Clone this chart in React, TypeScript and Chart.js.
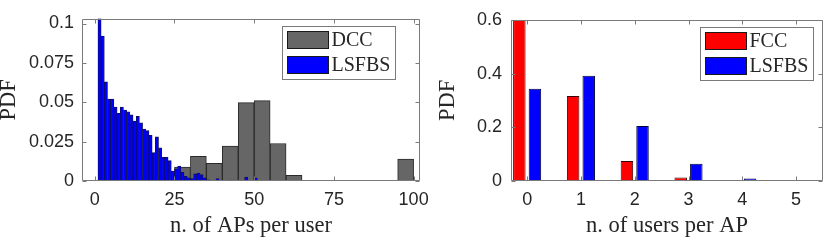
import React, { useEffect, useRef } from "react";
import { Chart, registerables } from "chart.js";
Chart.register(...registerables);

// ---------- Left panel: n. of APs per user ----------
const dccBinStart = 0;
const dccBinWidth = 5;
const dccValues = [
  0, 0, 0, 0, 0, 0.0088, 0.0156, 0.0112, 0.0221, 0.0498, 0.051, 0.0238, 0.0036,
  0.0004, 0, 0, 0, 0, 0, 0.0139,
];

const lsfbsApsBinStart = 1;
const lsfbsApsBinWidth = 1;
const lsfbsApsValues = [
  0.11, 0.092, 0.063, 0.052, 0.052, 0.047, 0.043, 0.047, 0.045, 0.044, 0.042,
  0.038, 0.041, 0.037, 0.033, 0.032, 0.029, 0.018, 0.028, 0.021, 0.015, 0.015,
  0.013, 0.0063, 0.0078, 0.0095, 0.0055, 0.003, 0.002, 0.0015, 0.0045, 0.005,
  0.004, 0.002, 0.0008, 0.0005, 0.0005, 0.0016, 0.0005, 0.0004, 0.0003, 0.0006,
  0.0006, 0.0003, 0.0002, 0.0005, 0.0025, 0.0004, 0.0005, 0.002, 0.0003,
];

const apsXTicks = [0, 25, 50, 75, 100];
const apsYTicks = [0, 0.025, 0.05, 0.075, 0.1];

// ---------- Right panel: n. of users per AP ----------
const usersPerAp = [0, 1, 2, 3, 4, 5];
const fccValues = [0.6, 0.316, 0.0745, 0.013, 0.0025, 0];
const lsfbsUsersValues = [0.343, 0.392, 0.205, 0.064, 0.0097, 0];
const usersYTicks = [0, 0.2, 0.4, 0.6];

const TEXT = "#262626";
const AXIS = "#7a7a7a";
const SANS = "'Liberation Sans', Arial, sans-serif";
const SERIF = "'Liberation Serif', 'Times New Roman', serif";

const fmt = (v: any) => String(+Number(v).toFixed(4));

const boxPlugin = {
  id: "matlabBox",
  afterDatasetsDraw(chart: any) {
    const { ctx, chartArea: a } = chart;
    const xs = chart.scales.x;
    const ys = chart.scales.y;
    const tl = 4;
    ctx.save();
    ctx.strokeStyle = AXIS;
    ctx.lineWidth = 1;
    const L = Math.round(a.left) + 0.5;
    const R = Math.round(a.right) - 0.5;
    const T = Math.round(a.top) + 0.5;
    const B = Math.round(a.bottom) - 0.5;
    ctx.beginPath();
    ctx.rect(L, T, R - L, B - T);
    xs.ticks.forEach((t: any) => {
      const px = Math.round(xs.getPixelForValue(t.value)) + 0.5;
      ctx.moveTo(px, B);
      ctx.lineTo(px, B - tl);
      ctx.moveTo(px, T);
      ctx.lineTo(px, T + tl);
    });
    ys.ticks.forEach((t: any) => {
      const py = Math.round(ys.getPixelForValue(t.value)) + 0.5;
      ctx.moveTo(L, py);
      ctx.lineTo(L + tl, py);
      ctx.moveTo(R, py);
      ctx.lineTo(R - tl, py);
    });
    ctx.stroke();
    ctx.restore();
  },
};

const legendPlugin = {
  id: "matlabLegend",
  afterDraw(chart: any, _args: any, opts: any) {
    const { ctx, chartArea: a } = chart;
    const items = opts.items as { label: string; color: string }[];
    ctx.save();
    ctx.font = `20px ${SERIF}`;
    const textW = Math.max(...items.map((i) => ctx.measureText(i.label).width));
    const patchW = 42;
    const patchH = 18;
    const pad = 4.5;
    const gap = 2.5;
    const rowH = 25;
    const w = pad + patchW + gap + textW + 5;
    const h = pad * 2 + rowH * (items.length - 1) + patchH + 1;
    const x0 = Math.round(a.right - opts.right - w) + 0.5;
    const y0 = Math.round(a.top + opts.top) + 0.5;
    ctx.fillStyle = "#fff";
    ctx.fillRect(x0, y0, w, h);
    ctx.strokeStyle = AXIS;
    ctx.lineWidth = 1;
    ctx.strokeRect(x0, y0, Math.round(w), Math.round(h));
    items.forEach((it, i) => {
      const py = Math.round(y0 + pad + i * rowH);
      const px = Math.round(x0 + pad);
      ctx.fillStyle = it.color;
      ctx.fillRect(px, py, patchW, patchH);
      ctx.strokeStyle = "#1a1a1a";
      ctx.strokeRect(px + 0.5, py + 0.5, patchW - 1, patchH - 1);
      ctx.fillStyle = TEXT;
      ctx.textBaseline = "middle";
      ctx.textAlign = "left";
      ctx.fillText(it.label, px + patchW + gap, py + patchH / 2 + 1);
    });
    ctx.restore();
  },
};

export default function App() {
  const leftRef = useRef<HTMLCanvasElement>(null);
  const rightRef = useRef<HTMLCanvasElement>(null);

  useEffect(() => {
    const tickFont = { family: SANS, size: 18 };
    const titleFont = (lh: number) => ({ family: SERIF, size: 22.5, lineHeight: lh });

    const left = new Chart(leftRef.current!, {
      type: "bar",
      data: {
        datasets: [
          {
            label: "DCC",
            data: dccValues.map((v, i) => ({ x: dccBinStart + (i + 0.5) * dccBinWidth, y: v })),
            backgroundColor: "#666666",
            borderColor: "#2a2a2a",
            borderWidth: 1,
            barPercentage: 1,
            categoryPercentage: 1,
            grouped: false,
            xAxisID: "x",
            order: 2,
          },
          {
            label: "LSFBS",
            data: lsfbsApsValues.map((v, i) => ({
              x: lsfbsApsBinStart + (i + 0.5) * lsfbsApsBinWidth,
              y: v,
            })),
            backgroundColor: "#0000ff",
            borderColor: "#10104a",
            borderWidth: 0.8,
            barPercentage: 1,
            categoryPercentage: 1,
            grouped: false,
            xAxisID: "xFine",
            order: 1,
          },
        ],
      } as any,
      options: {
        animation: false,
        responsive: false,
        events: [],
        layout: { padding: { left: 0, top: 13, right: 20, bottom: 0 } },
        plugins: {
          legend: { display: false },
          tooltip: { enabled: false },
          matlabLegend: {
            right: 25,
            top: 7,
            items: [
              { label: "DCC", color: "#666666" },
              { label: "LSFBS", color: "#0000ff" },
            ],
          },
        } as any,
        scales: {
          x: {
            type: "linear",
            min: -4,
            max: 102,
            offset: false,
            grid: { display: false, drawTicks: false },
            border: { display: false },
            afterBuildTicks: (s: any) => {
              s.ticks = apsXTicks.map((v) => ({ value: v }));
            },
            afterFit: (s: any) => {
              s.height = 59;
            },
            ticks: { padding: 8, font: tickFont, color: TEXT, maxRotation: 0, autoSkip: false, callback: fmt },
            title: { display: true, text: "n. of APs per user", font: titleFont(1.2), color: TEXT, padding: 0 },
          },
          xFine: {
            type: "linear",
            display: false,
            min: -4,
            max: 102,
            offset: false,
          },
          y: {
            min: 0,
            max: 0.103,
            grid: { display: false, drawTicks: false },
            border: { display: false },
            afterBuildTicks: (s: any) => {
              s.ticks = apsYTicks.map((v) => ({ value: v }));
            },
            afterFit: (s: any) => {
              s.width = 82;
            },
            ticks: { padding: 8, font: tickFont, color: TEXT, callback: fmt },
            title: { display: true, text: "PDF", font: titleFont(0.8), color: TEXT, padding: 0 },
          },
        },
      } as any,
      plugins: [boxPlugin, legendPlugin],
    });

    const right = new Chart(rightRef.current!, {
      type: "bar",
      data: {
        datasets: [
          {
            label: "FCC",
            data: usersPerAp.map((c, i) => ({ x: c, y: fccValues[i] })),
            backgroundColor: "#ff0000",
            borderColor: "#3a0000",
            borderWidth: 1,
            barPercentage: 0.8,
            categoryPercentage: 0.58,
          },
          {
            label: "LSFBS",
            data: usersPerAp.map((c, i) => ({ x: c, y: lsfbsUsersValues[i] })),
            backgroundColor: "#0000ff",
            borderColor: "#00003a",
            borderWidth: 1,
            barPercentage: 0.8,
            categoryPercentage: 0.58,
          },
        ],
      } as any,
      options: {
        animation: false,
        responsive: false,
        events: [],
        layout: { padding: { left: 0, top: 13, right: 7, bottom: 0 } },
        plugins: {
          legend: { display: false },
          tooltip: { enabled: false },
          matlabLegend: {
            right: 10,
            top: 7,
            items: [
              { label: "FCC", color: "#ff0000" },
              { label: "LSFBS", color: "#0000ff" },
            ],
          },
        } as any,
        scales: {
          x: {
            type: "linear",
            min: -0.3,
            max: 5.5,
            offset: false,
            grid: { display: false, drawTicks: false },
            border: { display: false },
            afterBuildTicks: (s: any) => {
              s.ticks = usersPerAp.map((v) => ({ value: v }));
            },
            afterFit: (s: any) => {
              s.height = 59;
            },
            ticks: { padding: 8, font: tickFont, color: TEXT, maxRotation: 0, autoSkip: false, callback: fmt },
            title: { display: true, text: "n. of users per AP", font: titleFont(1.2), color: TEXT, padding: 0 },
          },
          y: {
            min: 0,
            max: 0.6,
            grid: { display: false, drawTicks: false },
            border: { display: false },
            afterBuildTicks: (s: any) => {
              s.ticks = usersYTicks.map((v) => ({ value: v }));
            },
            afterFit: (s: any) => {
              s.width = 91;
            },
            ticks: { padding: 9, font: tickFont, color: TEXT, callback: fmt },
            title: { display: true, text: "PDF", font: titleFont(0.8), color: TEXT, padding: { top: 19 } },
          },
        },
      } as any,
      plugins: [boxPlugin, legendPlugin],
    });

    return () => {
      left.destroy();
      right.destroy();
    };
  }, []);

  return (
    <div style={{ position: "fixed", left: 0, top: 0, width: 830, height: 240, background: "#fff" }}>
      <canvas ref={leftRef} width={440} height={240} style={{ position: "absolute", left: 0, top: 0 }} />
      <canvas ref={rightRef} width={410} height={240} style={{ position: "absolute", left: 420, top: 0 }} />
    </div>
  );
}
